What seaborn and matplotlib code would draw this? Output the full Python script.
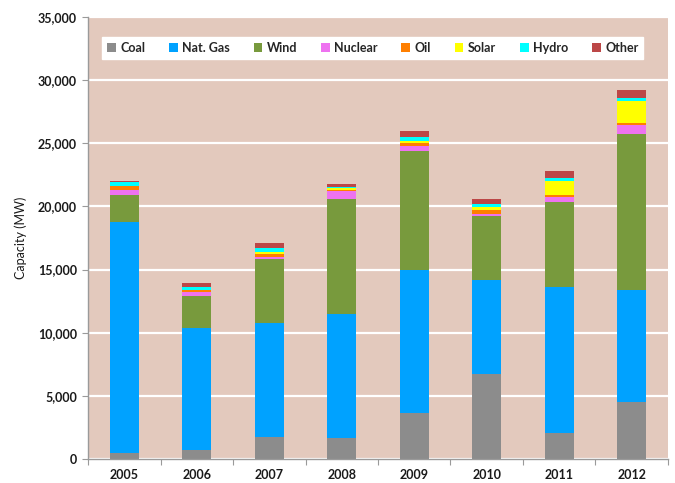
import numpy as np
import pandas as pd
import matplotlib
matplotlib.use("Agg")
import matplotlib.pyplot as plt
from matplotlib.patches import Patch
from matplotlib.ticker import FuncFormatter, MultipleLocator, FixedLocator
import seaborn as sns

years = ["2005", "2006", "2007", "2008", "2009", "2010", "2011", "2012"]
coal    = [440, 680, 1710, 1680, 3660, 6715, 2020, 4550]
nat_gas = [18330, 9670, 9030, 9780, 11320, 7425, 11570, 8820]
wind    = [2110, 2580, 5110, 9160, 9380, 5080, 6790, 12350]
nuclear = [450, 300, 160, 600, 410, 160, 370, 740]
oil     = [280, 150, 240, 120, 240, 310, 150, 110]
solar   = [0, 30, 130, 80, 160, 300, 1110, 1810]
hydro   = [320, 180, 340, 120, 290, 180, 270, 220]
other   = [60, 360, 420, 260, 550, 390, 500, 650]

series = ["Coal", "Nat. Gas", "Wind", "Nuclear", "Oil", "Solar", "Hydro", "Other"]
values = [coal, nat_gas, wind, nuclear, oil, solar, hydro, other]
colors = ["#8C8C8C", "#00A2FF", "#789A3D", "#EE72F0", "#FF7F00", "#FFFF00", "#00FFFF", "#BC4747"]

sns.set_theme(style="white")
plt.rcParams["font.family"] = ["Lato", "DejaVu Sans"]

fig = plt.figure(figsize=(6.75, 4.83), dpi=100)
ax = fig.add_axes([0.1304, 0.0497, 0.8592, 0.9151])
ax.set_facecolor("#E3C9BD")

bottom = np.zeros(len(years))
for name, vals, col in zip(series, values, colors):
    df = pd.DataFrame({"year": years, "mw": vals})
    sns.barplot(data=df, x="year", y="mw", color=col, width=0.4,
                bottom=bottom.copy(), saturation=1, linewidth=0, ax=ax)
    bottom += np.array(vals, dtype=float)

ax.set_xlim(-0.5, 7.5)
ax.set_ylim(0, 35000)
ax.yaxis.set_major_locator(MultipleLocator(5000))
ax.yaxis.set_major_formatter(FuncFormatter(lambda v, p: f"{int(v):,}"))
ax.grid(axis="y", color="white", linewidth=1.6)
ax.set_axisbelow(True)

for s in ["top", "right"]:
    ax.spines[s].set_visible(False)
for s in ["left", "bottom"]:
    ax.spines[s].set_color("#9A9A9A")
    ax.spines[s].set_linewidth(1.0)

ax.tick_params(axis="y", which="major", left=True, length=4, width=0.8,
               color="#9A9A9A", labelsize=9, pad=4)
ax.tick_params(axis="x", which="major", bottom=False, length=0, labelsize=9, pad=7)
ax.xaxis.set_minor_locator(FixedLocator(np.arange(-0.5, 8.0, 1.0)))
ax.tick_params(axis="x", which="minor", bottom=True, length=4, width=0.8,
               color="#9A9A9A")
for lab in ax.get_xticklabels() + ax.get_yticklabels():
    lab.set_fontweight("bold")
    lab.set_color("#1A1A1A")

ax.set_xlabel("")
ax.set_ylabel("Capacity (MW)", fontsize=9, color="#1A1A1A", labelpad=8)

handles = [Patch(facecolor=c, edgecolor="none", label=n) for n, c in zip(series, colors)]
leg = ax.legend(handles=handles, loc="upper center", bbox_to_anchor=(0.491, 0.955),
                borderaxespad=0, ncol=8, frameon=True, fancybox=False, framealpha=1,
                edgecolor="white", facecolor="white",
                handlelength=0.7, handleheight=0.7, handletextpad=0.35,
                columnspacing=1.9, borderpad=0.4,
                prop={"weight": "bold", "size": 9})

fig.savefig("out.png", dpi=100)
